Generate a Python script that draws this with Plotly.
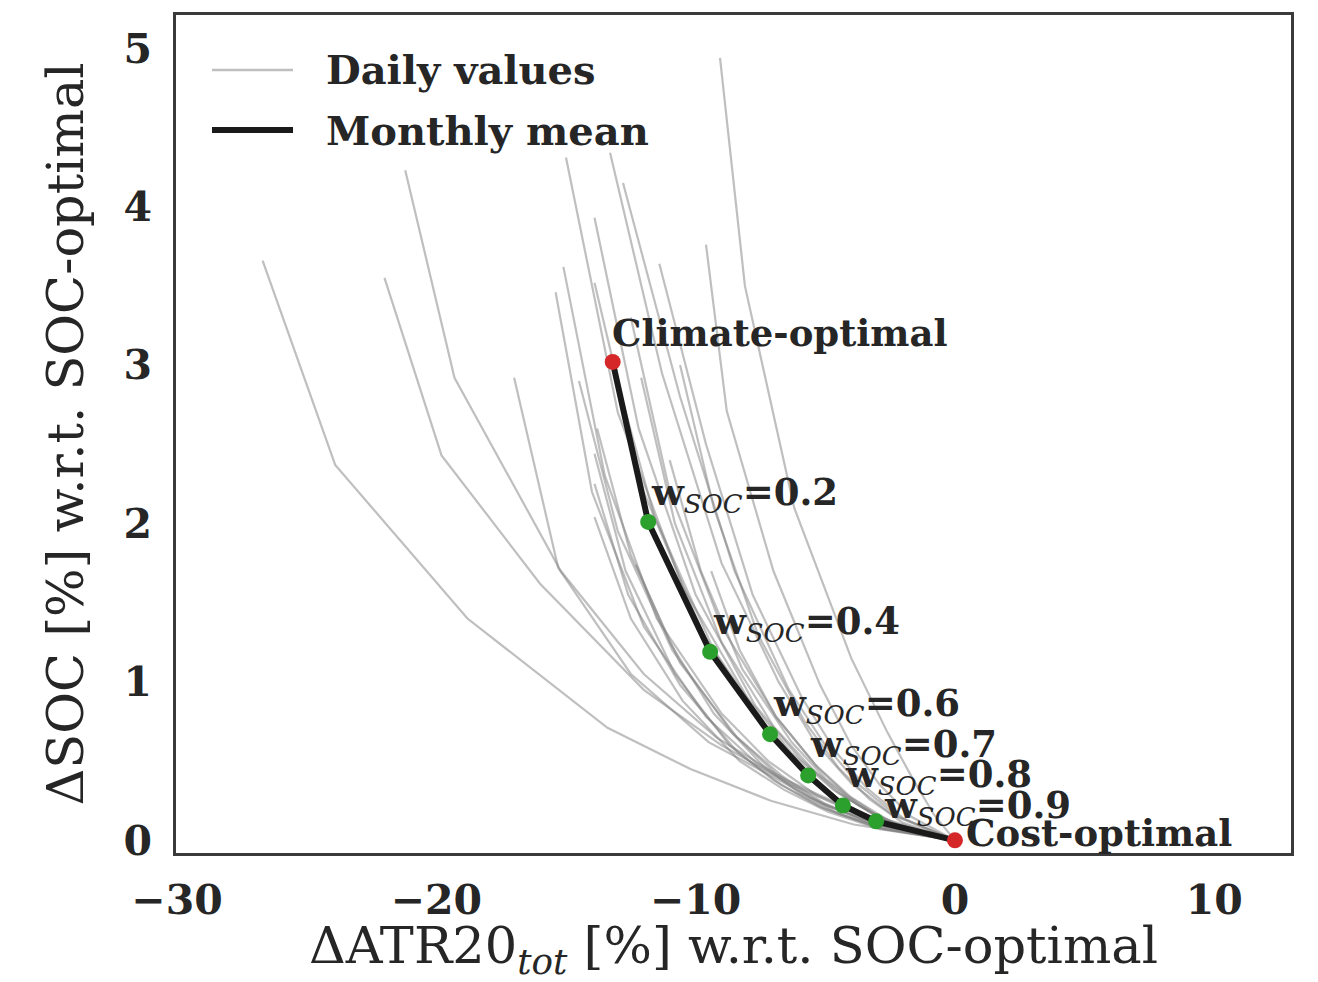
import plotly.graph_objects as go

# weights along each Pareto front
w_soc = [0.0, 0.2, 0.4, 0.6, 0.7, 0.8, 0.9, 1.0]

# monthly mean front
mean_atr = [-13.2, -11.83, -9.44, -7.13, -5.66, -4.32, -3.04, 0.0]
mean_soc = [3.02, 2.01, 1.19, 0.67, 0.41, 0.22, 0.12, 0.0]

# daily fronts (one list per day)
daily_atr = [
    [-26.7, -23.9, -18.8, -13.4, -10.2, -7.1, -3.9, 0.0],
    [-22.0, -19.8, -16.0, -12.0, -9.0, -6.3, -3.4, 0.0],
    [-21.2, -19.3, -15.2, -12.0, -9.2, -6.5, -3.5, 0.0],
    [-17.0, -15.3, -12.5, -9.5, -7.0, -5.0, -2.7, 0.0],
    [-15.0, -13.0, -10.5, -8.0, -6.3, -4.7, -3.0, 0.0],
    [-13.3, -11.3, -9.0, -6.8, -5.4, -4.0, -2.4, 0.0],
    [-12.8, -10.6, -8.5, -6.4, -5.0, -3.7, -2.2, 0.0],
    [-13.9, -12.2, -10.0, -7.7, -6.0, -4.5, -2.8, 0.0],
    [-15.1, -13.5, -11.5, -9.0, -7.2, -5.3, -3.2, 0.0],
    [-15.4, -14.0, -12.0, -9.6, -7.6, -5.6, -3.3, 0.0],
    [-13.9, -12.0, -9.7, -7.5, -5.9, -4.5, -3.1, 0.0],
    [-11.4, -9.6, -7.8, -5.9, -4.6, -3.4, -2.0, 0.0],
    [-9.6, -8.8, -7.0, -5.2, -4.0, -2.9, -1.7, 0.0],
    [-9.06, -8.1, -6.2, -4.0, -2.6, -1.6, -0.8, 0.0],
    [-12.1, -10.8, -9.0, -7.0, -5.5, -4.1, -2.5, 0.0],
    [-10.6, -9.3, -7.6, -5.8, -4.5, -3.3, -2.0, 0.0],
    [-13.8, -12.5, -10.6, -8.4, -6.7, -5.0, -3.0, 0.0],
    [-13.9, -12.7, -10.8, -8.7, -7.0, -5.2, -3.1, 0.0],
    [-13.9, -12.6, -10.6, -8.4, -6.7, -5.0, -3.0, 0.0],
    [-13.9, -12.5, -10.5, -8.3, -6.6, -4.9, -2.9, 0.0],
    [-12.3, -11.0, -9.3, -7.4, -6.0, -4.5, -2.7, 0.0],
    [-9.4, -8.3, -6.9, -5.3, -4.2, -3.1, -1.8, 0.0],
    [-12.5, -11.0, -9.0, -6.9, -5.4, -4.0, -2.4, 0.0],
    [-13.2, -11.6, -9.3, -7.1, -5.6, -4.3, -3.0, 0.0],
    [-11.0, -9.8, -8.2, -6.3, -5.0, -3.7, -2.3, 0.0],
    [-14.5, -13.0, -10.9, -8.6, -6.9, -5.1, -3.1, 0.0],
]
daily_soc = [
    [3.66, 2.37, 1.40, 0.71, 0.45, 0.25, 0.10, 0.0],
    [3.55, 2.43, 1.62, 0.95, 0.60, 0.35, 0.15, 0.0],
    [4.23, 2.92, 1.70, 1.05, 0.65, 0.38, 0.16, 0.0],
    [2.92, 1.72, 1.05, 0.62, 0.40, 0.22, 0.09, 0.0],
    [4.31, 2.70, 1.60, 0.90, 0.55, 0.32, 0.15, 0.0],
    [4.34, 2.95, 1.75, 1.00, 0.62, 0.36, 0.16, 0.0],
    [4.15, 2.80, 1.70, 0.95, 0.60, 0.35, 0.15, 0.0],
    [3.93, 2.60, 1.55, 0.85, 0.52, 0.30, 0.13, 0.0],
    [3.62, 2.30, 1.40, 0.80, 0.50, 0.28, 0.12, 0.0],
    [3.46, 2.20, 1.35, 0.78, 0.48, 0.27, 0.11, 0.0],
    [3.52, 2.20, 1.30, 0.74, 0.46, 0.26, 0.12, 0.0],
    [3.64, 2.50, 1.55, 0.90, 0.56, 0.33, 0.14, 0.0],
    [3.76, 2.71, 1.70, 0.98, 0.60, 0.35, 0.15, 0.0],
    [4.94, 3.50, 2.10, 1.15, 0.68, 0.38, 0.16, 0.0],
    [2.92, 2.00, 1.25, 0.72, 0.45, 0.26, 0.11, 0.0],
    [3.00, 2.10, 1.30, 0.75, 0.46, 0.26, 0.11, 0.0],
    [2.60, 1.80, 1.12, 0.65, 0.41, 0.23, 0.10, 0.0],
    [2.44, 1.70, 1.05, 0.60, 0.38, 0.21, 0.09, 0.0],
    [2.25, 1.55, 0.98, 0.56, 0.35, 0.20, 0.08, 0.0],
    [2.04, 1.40, 0.88, 0.50, 0.32, 0.18, 0.07, 0.0],
    [1.74, 1.25, 0.80, 0.47, 0.30, 0.17, 0.07, 0.0],
    [1.70, 1.20, 0.78, 0.46, 0.29, 0.17, 0.07, 0.0],
    [3.30, 2.20, 1.35, 0.78, 0.48, 0.27, 0.11, 0.0],
    [3.00, 2.05, 1.20, 0.68, 0.42, 0.23, 0.12, 0.0],
    [2.40, 1.70, 1.08, 0.62, 0.39, 0.22, 0.09, 0.0],
    [2.90, 1.95, 1.20, 0.68, 0.42, 0.23, 0.10, 0.0],
]

# point labels
point_labels = ["Climate-optimal", "0.2", "0.4", "0.6", "0.7", "0.8", "0.9", "Cost-optimal"]
label_x = [-13.3, -11.8, -9.4, -7.1, -5.65, -4.3, -2.8, 0.33]
label_y = [3.20, 2.18, 1.37, 0.85, 0.59, 0.40, 0.21, 0.045]

x_ticks = [-30, -20, -10, 0, 10]
x_ticktext = ["\u221230", "\u221220", "\u221210", "0", "10"]
y_ticks = [0, 1, 2, 3, 4, 5]

TXT = "#262626"
SERIF = "DejaVu Serif"

fig = go.Figure()
for xs, ys in zip(daily_atr, daily_soc):
    fig.add_trace(go.Scatter(x=xs, y=ys, mode="lines",
                             line=dict(color="rgba(128,128,128,0.5)", width=2.2),
                             showlegend=False, hoverinfo="skip"))

fig.add_trace(go.Scatter(x=mean_atr, y=mean_soc, mode="lines",
                         line=dict(color="#1a1a1a", width=6), showlegend=False))

marker_colors = ["#d62728" if (w == 0.0 or w == 1.0) else "#2ca02c" for w in w_soc]
fig.add_trace(go.Scatter(x=mean_atr, y=mean_soc, mode="markers",
                         marker=dict(color=marker_colors, size=16, line=dict(width=0)),
                         showlegend=False))

for lab, lx, ly in zip(point_labels, label_x, label_y):
    if lab[0].isdigit():
        text = ("<b>w</b><sub><span style='font-weight:normal'><i>SOC</i></span></sub>"
                "<b>=" + lab + "</b>")
    else:
        text = "<b>" + lab + "</b>"
    fig.add_annotation(x=lx, y=ly, xref="x", yref="y", text=text, showarrow=False,
                       xanchor="left", yanchor="middle",
                       font=dict(family=SERIF, size=37, color=TXT))

# manual legend (paper coordinates)
def px_x(p):
    return (p - 176) / (1291 - 176)

def px_y(p):
    return (853 - p) / (853 - 15)

fig.add_shape(type="line", xref="paper", yref="paper",
              x0=px_x(212), x1=px_x(293), y0=px_y(70), y1=px_y(70),
              line=dict(color="rgba(128,128,128,0.5)", width=2.5))
fig.add_shape(type="line", xref="paper", yref="paper",
              x0=px_x(212), x1=px_x(293), y0=px_y(130), y1=px_y(130),
              line=dict(color="#1a1a1a", width=6))
fig.add_annotation(x=px_x(324), y=px_y(70), xref="paper", yref="paper",
                   text="<b>Daily values</b>", showarrow=False, xanchor="left",
                   yanchor="middle", font=dict(family=SERIF, size=40, color=TXT))
fig.add_annotation(x=px_x(324), y=px_y(130), xref="paper", yref="paper",
                   text="<b>Monthly mean</b>", showarrow=False, xanchor="left",
                   yanchor="middle", font=dict(family=SERIF, size=40, color=TXT))

fig.update_layout(
    width=1318, height=982,
    margin=dict(l=176, r=27, t=15, b=129),
    plot_bgcolor="white", paper_bgcolor="white",
    showlegend=False,
)
fig.update_xaxes(range=[-30.04, 12.96], tickvals=x_ticks, ticktext=x_ticktext,
                 showgrid=False, zeroline=False, showline=True, mirror=True,
                 linecolor="#3a3a3a", linewidth=2.5,
                 ticks="outside", ticklen=9, tickcolor="rgba(0,0,0,0)",
                 tickfont=dict(family=SERIF, size=41, color=TXT, weight="bold"),
                 title=dict(text="\u0394ATR20<sub><i>tot</i></sub> [%] w.r.t. SOC-optimal",
                            font=dict(family=SERIF, size=51, color=TXT), standoff=9))
fig.update_yaxes(range=[-0.08, 5.21], tickvals=y_ticks,
                 showgrid=False, zeroline=False, showline=True, mirror=True,
                 linecolor="#3a3a3a", linewidth=2.5,
                 ticks="outside", ticklen=13, tickcolor="rgba(0,0,0,0)",
                 tickfont=dict(family=SERIF, size=41, color=TXT, weight="bold"),
                 title=dict(text="\u0394SOC [%] w.r.t. SOC-optimal",
                            font=dict(family=SERIF, size=51, color=TXT), standoff=24))

fig.write_html("out.html")
